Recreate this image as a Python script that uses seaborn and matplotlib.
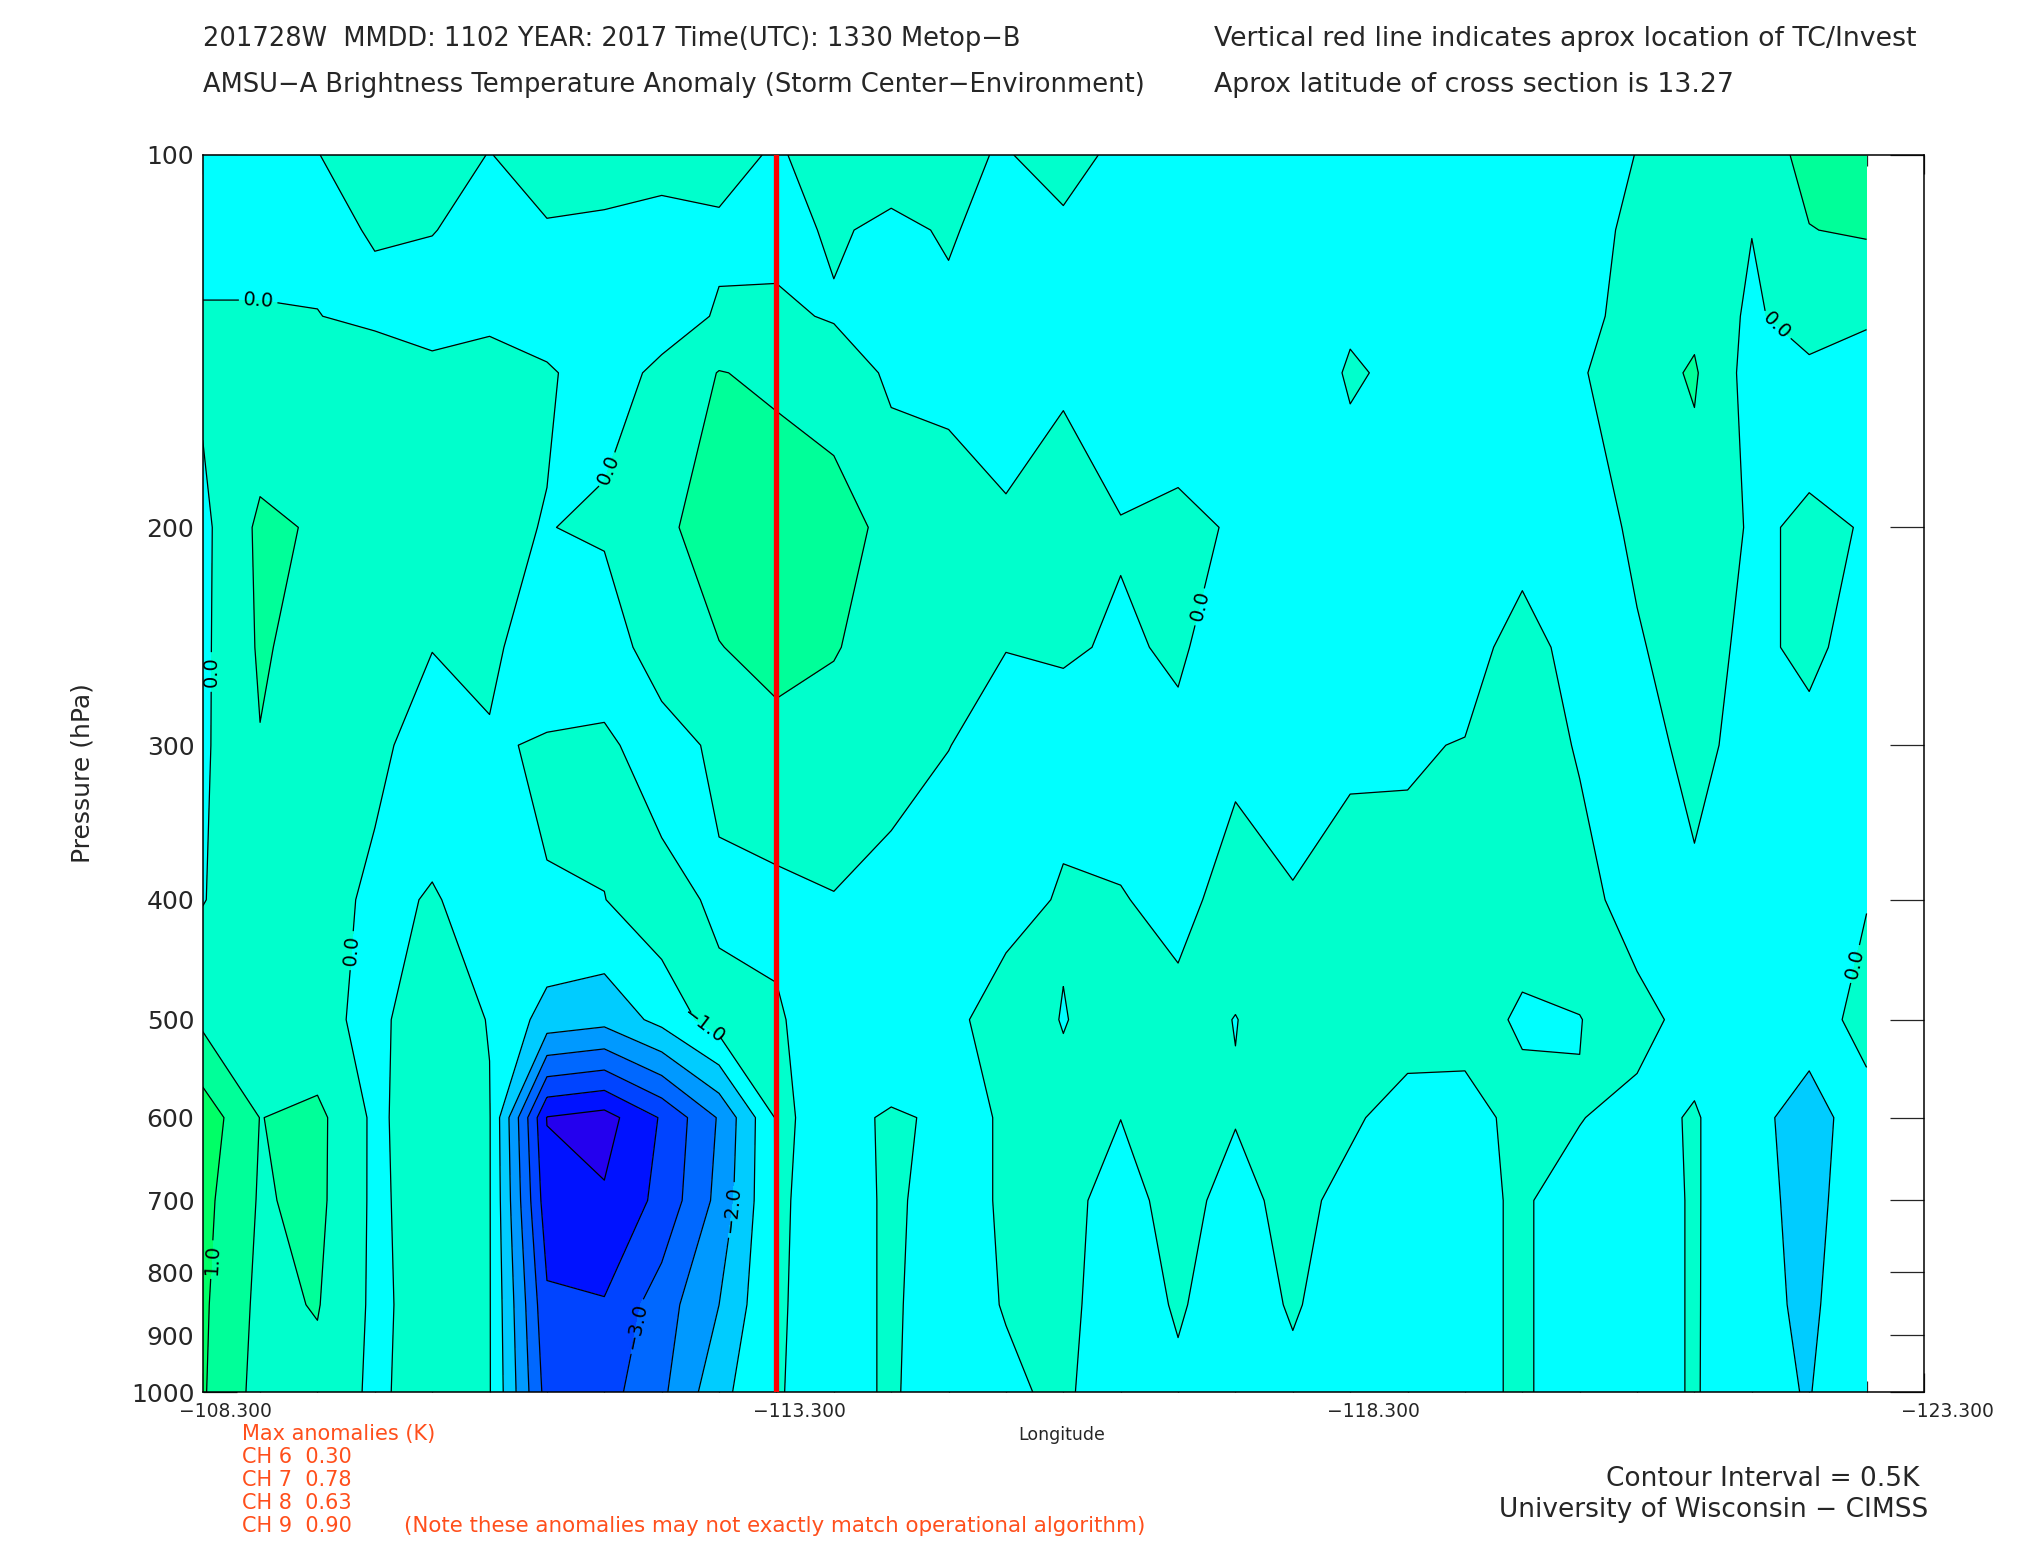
import numpy as np
import matplotlib
matplotlib.use("Agg")
import matplotlib.pyplot as plt
import seaborn as sns
from matplotlib.transforms import ScaledTranslation

# ---------------- data ----------------
longitudes = [-108.3, -108.8, -109.3, -109.8, -110.3, -110.8, -111.3, -111.8, -112.3, -112.8,
              -113.3, -113.8, -114.3, -114.8, -115.3, -115.8, -116.3, -116.8, -117.3, -117.8,
              -118.3, -118.8, -119.3, -119.8, -120.3, -120.8, -121.3, -121.8, -122.3, -122.8]
pressures = [100, 115, 135, 150, 200, 250, 300, 400, 500, 600, 700, 850, 1000]

t100 = [-0.2, -0.15, -0.01, 0.2, 0.15, -0.01, 0.15, 0.2, 0.25, 0.15, -0.05, 0.2, 0.25, 0.1, -0.04,
        0.25, -0.16, -0.3, -0.3, -0.25, -0.3, -0.3, -0.25, -0.3, -0.2, 0.01, 0.3, 0.3, 0.6, 0.95]
t115 = [-0.12, -0.12, -0.1, 0.03, 0.01, -0.1, -0.03, -0.08, -0.23, -0.07, -0.15, 0.06, -0.11, 0.05, -0.2,
        -0.13, -0.25, -0.3, -0.3, -0.3, -0.25, -0.3, -0.3, -0.3, -0.25, 0.15, 0.35, 0.01, 0.49, 0.55]
t135 = [0.03, 0.03, 0.01, -0.1, -0.15, -0.12, -0.2, -0.25, -0.2, 0.04, 0.1, -0.05, -0.15, -0.1, -0.25,
        -0.15, -0.3, -0.3, -0.3, -0.3, -0.066, -0.3, -0.3, -0.3, -0.2, 0.25, 0.4, -0.1, 0.3, 0.05]
t150 = [0.08, 0.15, 0.15, 0.3, 0.1, 0.23, 0.05, -0.2, 0.1, 0.52, 0.4, 0.35, -0.1, -0.1, -0.25,
        -0.07, -0.3, -0.25, -0.3, -0.3, 0.05, -0.1, -0.3, -0.3, -0.05, 0.3, 0.55, -0.2, -0.15, -0.17]
t200 = [-0.12, 0.6, 0.45, 0.3, 0.25, 0.1, -0.02, 0.1, 0.37, 0.8, 0.85, 0.65, 0.4, 0.2, 0.08,
        0.25, 0.03, 0.1, -0.04, -0.3, -0.23, -0.3, -0.3, -0.3, -0.25, 0.09, 0.3, -0.05, 0.05, -0.015]
t250 = [-0.1, 0.56, 0.3, 0.25, 0.01, 0.1, -0.3, -0.45, 0.45, 0.48, 0.7, 0.53, 0.3, 0.15, 0.01,
        0.05, -0.05, 0.05, -0.2, -0.3, -0.3, -0.3, -0.3, 0.3, -0.3, -0.05, 0.25, -0.15, 0.15, -0.3]
t300 = [-0.08, 0.48, 0.25, 0.1, -0.2, -0.05, 0.05, 0.15, -0.4, 0.19, 0.3, 0.3, 0.15, 0.01, -0.2,
        -0.2, -0.25, -0.08, -0.1, -0.3, -0.08, -0.06, 0.03, 0.3, -0.05, -0.2, 0.15, -0.2, -0.2, -0.3]
t400 = [-0.02, 0.3, 0.2, -0.1, 0.03, -0.15, -0.02, -0.01, 0.31, -0.15, -0.1, -0.02, -0.14, -0.3, -0.25,
        0.07, 0.03, -0.15, 0.2, 0.05, 0.2, 0.17, 0.25, 0.3, 0.21, -0.265, -0.1, -0.25, -0.3, -0.03]
t500 = [0.4, 0.35, 0.1, -0.1, 0.25, -0.02, -0.7, -0.84, -0.35, 0.25, 0.05, -0.25, -0.3, -0.2, 0.35,
        -0.03, 0.3, 0.15, -0.01, 0.2, 0.3, 0.3, 0.3, -0.1, -0.01, 0.2, -0.22, -0.3, -0.35, 0.26]
t600 = [1.3, 0.49, 0.63, -0.1, 0.3, 0.03, -3.02, -3.2, -2.45, -1.45, 0.05, -0.1, 0.04, -0.05, 0.015,
        0.2, 0.005, 0.3, 0.03, 0.25, 0.1, -0.27, -0.3, 0.25, 0.02, -0.18, 0.05, -0.4, -0.65, -0.3]
t700 = [1.15, 0.45, 0.62, -0.1, 0.25, 0.03, -2.8, -2.93, -2.36, -1.35, 0.04, -0.12, 0.04, -0.1, 0.03,
        0.15, -0.2, 0.2, -0.2, 0.2, -0.2, -0.3, -0.1, 0.05, -0.2, -0.25, 0.05, -0.4, -0.6, -0.3]
t850 = [1.08, 0.38, 0.53, -0.1, 0.2, 0.03, -2.4, -2.46, -1.73, -1.0, 0.03, -0.12, 0.04, -0.15, 0.02,
        0.12, -0.25, 0.05, -0.25, 0.05, -0.25, -0.3, -0.1, 0.05, -0.2, -0.25, 0.05, -0.42, -0.55, -0.3]
t1000 = [1.05, 0.32, 0.35, -0.1, 0.25, 0.03, -2.2, -2.2, -1.6, -0.66, 0.02, -0.12, 0.04, -0.2, -0.07,
         0.08, -0.3, -0.09, -0.3, -0.13, -0.3, -0.3, -0.1, 0.05, -0.2, -0.25, 0.05, -0.45, -0.51, -0.3]

levels = [-3.5, -3.0, -2.5, -2.0, -1.5, -1.0, -0.5, 0.0, 0.5, 1.0, 1.5]
band_colors = ["#2400ee", "#0012ff", "#0044ff", "#0068ff", "#0099ff", "#00ccff",
               "#00ffff", "#00ffcc", "#00ff99", "#00ff66"]
plain_line_levels = [-3.0, -2.5, -1.5, -0.5, 0.5]

pressure_ticks = [100, 200, 300, 400, 500, 600, 700, 800, 900, 1000]
lon_ticks = [-108.3, -113.3, -118.3, -123.3]
lon_tick_labels = ["\u2212108.300", "\u2212113.300", "\u2212118.300", "\u2212123.300"]
storm_lon = -113.3

# contour label positions (lon, hPa) and their printed text
zero_label_pos = [(-108.784, 133.5), (-111.788, 178.9), (-108.368, 261.5), (-109.515, 438.5),
                  (-116.931, 230.9), (-122.13, 133.5), (-122.65, 449.2), (-112.666, 506.5)]
zero_label_text = ["0.0", "0.0", "0.0", "0.0", "0.0", "0.0", "0.0", "\u22121.0"]
minus1_label_pos = [(-112.835, 709.0)]
minus2_label_pos = [(-111.99, 880.5)]
plus1_label_pos = [(-108.368, 780.6)]

max_anom_lines = ["Max anomalies (K)", "CH 6  0.30", "CH 7  0.78", "CH 8  0.63", "CH 9  0.90"]

# ---------------- plot ----------------
sns.set_style("white")
plt.rcParams['font.family'] = ['DejaVu Sans']

fig = plt.figure(figsize=(20.25, 15.5), dpi=100)
ax = fig.add_axes([0.1001, 0.1019, 0.8500, 0.7981])

Z = np.array([t100, t115, t135, t150, t200, t250, t300, t400, t500, t600, t700, t850, t1000])

ax.contourf(longitudes, pressures, Z, levels=levels, colors=band_colors)
lw = 0.9
line_kw = dict(colors="black", linewidths=lw, negative_linestyles="solid")
ax.contour(longitudes, pressures, Z, levels=plain_line_levels, **line_kw)
cs0 = ax.contour(longitudes, pressures, Z, levels=[0.0], **line_kw)
csm1 = ax.contour(longitudes, pressures, Z, levels=[-1.0], **line_kw)
csm2 = ax.contour(longitudes, pressures, Z, levels=[-2.0], **line_kw)
csp1 = ax.contour(longitudes, pressures, Z, levels=[1.0], **line_kw)

ax.set_yscale("log")
ax.set_xlim(lon_ticks[0], lon_ticks[-1])
ax.set_ylim(1000, 100)

# contour labels
lab_kw = dict(inline=True, inline_spacing=4, fontsize=14, colors="black")
ax.clabel(cs0, manual=zero_label_pos, fmt={0.0: "0.0"}, **lab_kw)
ax.clabel(csm1, manual=minus1_label_pos, fmt={-1.0: "\u22122.0"}, **lab_kw)
ax.clabel(csm2, manual=minus2_label_pos, fmt={-2.0: "\u22123.0"}, **lab_kw)
ax.clabel(csp1, manual=plus1_label_pos, fmt={1.0: "1.0"}, **lab_kw)
# the original prints -1.0 on one of the zero-line labels
target = zero_label_pos[-1]
tx, ty = ax.transData.transform(target)
best, bestd = None, 1e18
for t in cs0.labelTexts:
    px, py = ax.transData.transform(t.get_position())
    d = (px - tx) ** 2 + (py - ty) ** 2
    if d < bestd:
        best, bestd = t, d
if best is not None:
    best.set_text(zero_label_text[-1])

# storm location line
ax.axvline(storm_lon, color="red", lw=3.8, zorder=5)

# axes styling
for s in ax.spines.values():
    s.set_linewidth(1.1)
    s.set_color("black")
ax.yaxis.set_major_locator(matplotlib.ticker.FixedLocator(pressure_ticks))
ax.yaxis.set_minor_locator(matplotlib.ticker.NullLocator())
ax.set_yticklabels([str(p) for p in pressure_ticks])
ax.xaxis.set_major_locator(matplotlib.ticker.FixedLocator(lon_ticks))
ax.set_xticklabels(lon_tick_labels)
ax.xaxis.set_minor_locator(matplotlib.ticker.FixedLocator(longitudes[1:]))
ax.tick_params(axis="y", which="major", direction="in", length=24.5, width=0.9,
               left=True, right=True, labelsize=18, pad=6)
ax.tick_params(axis="x", which="major", direction="in", length=14, width=0.9,
               top=True, bottom=True, labelsize=13.5, pad=7)
ax.tick_params(axis="x", which="minor", direction="in", length=8, width=0.9,
               top=True, bottom=True)
off = ScaledTranslation(0.23, 0, fig.dpi_scale_trans)
for lab in ax.get_xticklabels():
    lab.set_transform(lab.get_transform() + off)

ax.set_ylabel("Pressure (hPa)", fontsize=18)
ax.yaxis.set_label_coords(-0.063, 0.5)
fig.text(1061.6 / 2025, 1 - 1434.8 / 1550, "Longitude", fontsize=12.5, ha="center", va="center")

# header text
fig.text(203 / 2025, 1 - 38.7 / 1550, "201728W  MMDD: 1102 YEAR: 2017 Time(UTC): 1330 Metop\u2212B",
         fontsize=18.5, ha="left", va="center")
fig.text(203 / 2025, 1 - 85.2 / 1550, "AMSU\u2212A Brightness Temperature Anomaly (Storm Center\u2212Environment)",
         fontsize=18.5, ha="left", va="center")
fig.text(1214 / 2025, 1 - 38.7 / 1550, "Vertical red line indicates aprox location of TC/Invest",
         fontsize=19.3, ha="left", va="center")
fig.text(1214 / 2025, 1 - 85.2 / 1550, "Aprox latitude of cross section is 13.27",
         fontsize=19.3, ha="left", va="center")

# max anomalies block
orange = "#ff4f1c"
ys = [1433.6, 1457.0, 1480.0, 1503.0, 1526.5]
for line, y in zip(max_anom_lines, ys):
    fig.text(241.5 / 2025, 1 - y / 1550, line, fontsize=15, color=orange, ha="left", va="center")
fig.text(404 / 2025, 1 - 1526.5 / 1550,
         "(Note these anomalies may not exactly match operational algorithm)",
         fontsize=15.4, color=orange, ha="left", va="center")

# bottom right credits
fig.text(1919 / 2025, 1 - 1478.5 / 1550, "Contour Interval = 0.5K", fontsize=19, ha="right", va="center")
fig.text(1928 / 2025, 1 - 1510 / 1550, "University of Wisconsin \u2212 CIMSS", fontsize=19, ha="right", va="center")

fig.savefig("out.png", dpi=100)
